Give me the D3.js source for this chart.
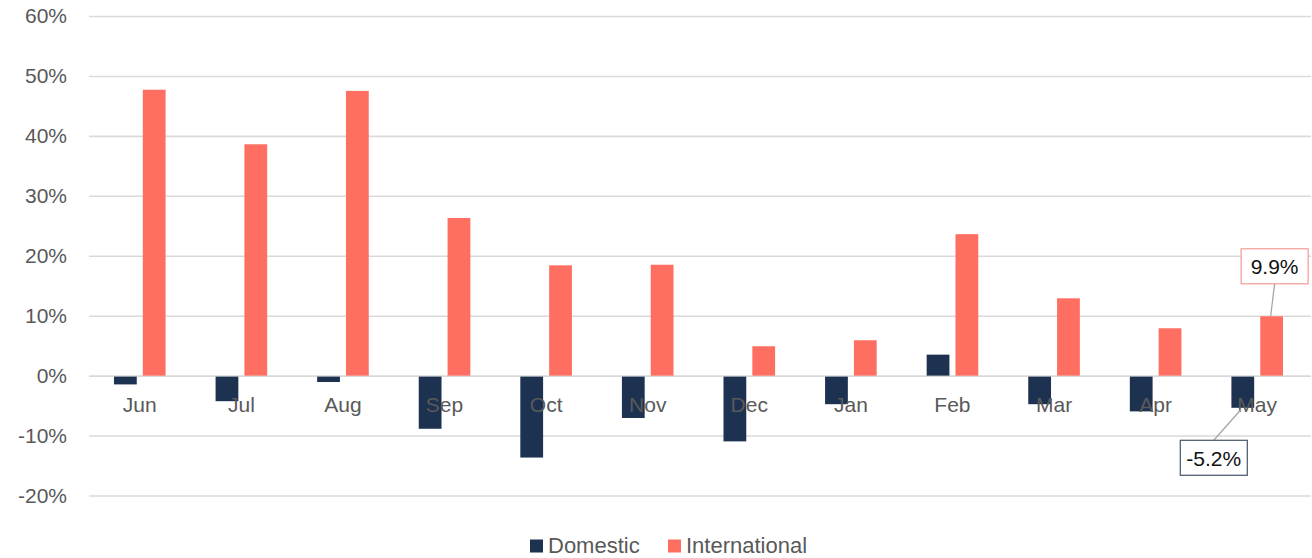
<!DOCTYPE html>
<html>
<head>
<meta charset="utf-8">
<script src="https://cdn.jsdelivr.net/npm/d3@7/dist/d3.min.js"></script>
<style>
  html, body { margin: 0; padding: 0; background: #fff; }
  svg { display: block; font-family: "Liberation Sans", Arial, sans-serif; }
</style>
</head>
<body>
<svg id="chart" width="1312" height="558"></svg>
<script>
// Monthly year-over-year change, domestic vs international
const months = ["Jun", "Jul", "Aug", "Sep", "Oct", "Nov", "Dec", "Jan", "Feb", "Mar", "Apr", "May"];
const domestic = [-1.3, -4.1, -0.9, -8.7, -13.5, -6.9, -10.8, -4.6, 3.5, -4.6, -5.8, -5.2];
const international = [47.7, 38.6, 47.5, 26.3, 18.4, 18.5, 4.9, 5.9, 23.6, 12.9, 7.9, 9.9];
const seriesNames = ["Domestic", "International"];
const seriesColors = ["#1d3251", "#ff6f61"];
const yTicks = [-20, -10, 0, 10, 20, 30, 40, 50, 60];

const svg = d3.select("#chart");
const margin = { left: 89, right: 4, top: 16, bottom: 62 };
const W = 1312, H = 558;

const x0 = d3.scaleBand().domain(months).range([margin.left, W - margin.right]).padding(0);
const bw = x0.bandwidth();
const x1 = d3.scaleBand().domain(seriesNames)
  .range([bw * 0.246, bw * 0.754]).paddingInner(0.21).paddingOuter(0);
const y = d3.scaleLinear().domain([-20, 60]).range([495.5, 16]);

// Gridlines and value labels
const yAxis = d3.axisLeft(y).tickValues(yTicks)
  .tickSize(-(W - margin.right - margin.left + 3))
  .tickFormat(d => d + "%").tickPadding(22);
const gy = svg.append("g").attr("transform", `translate(${margin.left},0)`).call(yAxis);
gy.select(".domain").remove();
gy.selectAll(".tick line").attr("stroke", "#d9d9d9").attr("stroke-width", 1.6);
gy.selectAll(".tick text").attr("fill", "#595959").attr("font-size", 21)
  .attr("font-family", "Liberation Sans, Arial, sans-serif");

// Bars
const rows = months.map((m, i) => ({ month: m, values: [domestic[i], international[i]] }));
const groups = svg.append("g").selectAll("g").data(rows).join("g")
  .attr("transform", d => `translate(${x0(d.month)},0)`);
groups.selectAll("rect").data(d => d.values.map((v, k) => ({ key: seriesNames[k], v, k })))
  .join("rect")
  .attr("x", d => x1(d.key))
  .attr("width", x1.bandwidth())
  .attr("y", d => y(Math.max(0, d.v)) + (d.v >= 0 ? 0 : 1))
  .attr("height", d => Math.abs(y(d.v) - y(0)))
  .attr("fill", d => seriesColors[d.k]);

// Category labels (drawn above the bars)
const xAxis = d3.axisBottom(x0).tickSize(0).tickPadding(0);
const gx = svg.append("g").attr("transform", `translate(0,${y(0)})`).call(xAxis);
gx.select(".domain").remove();
gx.selectAll(".tick text").attr("fill", "#595959").attr("font-size", 21)
  .attr("font-family", "Liberation Sans, Arial, sans-serif")
  .attr("dy", null).attr("y", 36);

// Callouts for the latest month
const last = months.length - 1;
const lastMonth = months[last];
function callout(seriesIdx, value, dx, dy, lineDx, border) {
  const cx = x0(lastMonth) + x1(seriesNames[seriesIdx]) + x1.bandwidth() / 2;
  const barEnd = value >= 0 ? y(value) : y(value) + 3;
  const bx = cx + dx, by = barEnd + dy;
  const w = 67, h = 35;
  const g = svg.append("g");
  const edgeY = value >= 0 ? by + h / 2 : by - h / 2;
  g.append("line")
    .attr("x1", bx).attr("y1", edgeY)
    .attr("x2", cx + lineDx).attr("y2", barEnd)
    .attr("stroke", "#a6a6a6").attr("stroke-width", 1.3);
  g.append("rect")
    .attr("x", bx - w / 2).attr("y", by - h / 2).attr("width", w).attr("height", h)
    .attr("fill", "#fff").attr("stroke", border).attr("stroke-width", 1.2);
  g.append("text")
    .attr("x", bx).attr("y", by + 8).attr("text-anchor", "middle")
    .attr("font-size", 21).attr("fill", "#111")
    .text(value.toFixed(1) + "%");
}
callout(1, international[last], 3, -50, -1, "#f59a93");
callout(0, domestic[last], -29, 48, -2, "#44546a");

// Legend
const legend = svg.append("g").attr("transform", "translate(530,553)");
const items = [
  { name: seriesNames[0], color: seriesColors[0], x: 0 },
  { name: seriesNames[1], color: seriesColors[1], x: 138 }
];
items.forEach(it => {
  legend.append("rect").attr("x", it.x).attr("y", -13.5).attr("width", 13).attr("height", 13)
    .attr("fill", it.color);
  legend.append("text").attr("x", it.x + 18).attr("y", 0)
    .attr("font-size", 22).attr("fill", "#595959").text(it.name);
});
</script>
</body>
</html>
